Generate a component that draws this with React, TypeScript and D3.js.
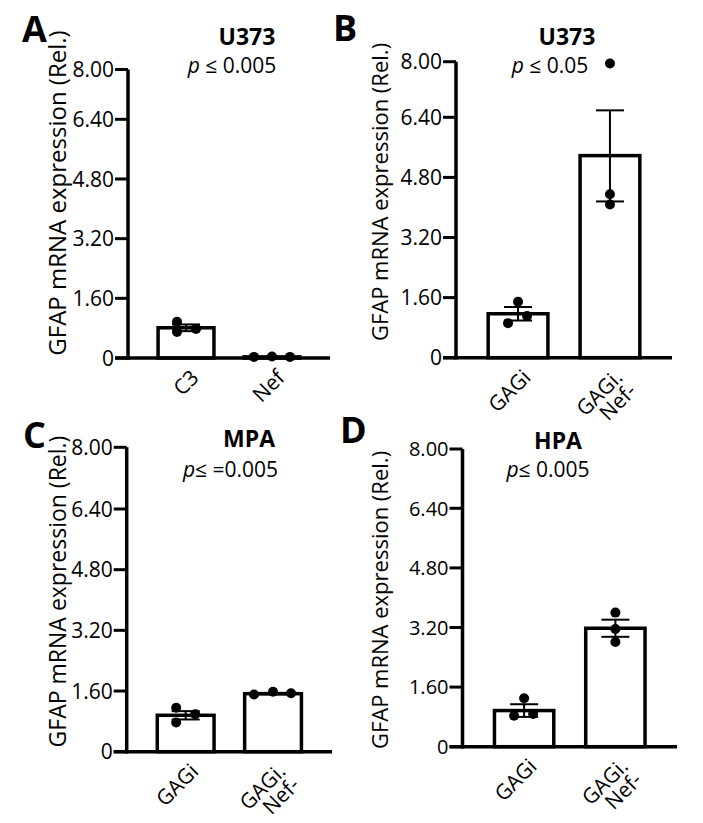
import React from "react";
import * as d3 from "d3";

// ---------- data ----------
const panelLetters = ["A", "B", "C", "D"];
const panelTitles = ["U373", "U373", "MPA", "HPA"];
const pTexts = [" ≤ 0.005", " ≤ 0.05", "≤ =0.005", "≤ 0.005"];
const yAxisTitle = "GFAP mRNA expression (Rel.)";

const yTickValues = [0, 1.6, 3.2, 4.8, 6.4, 8];
const yTickLabels = ["0", "1.60", "3.20", "4.80", "6.40", "8.00"];

const categoriesA = ["C3", "Nef"];
const categoriesB = ["GAGi", "GAGi.|Nef-"];
const categoriesC = ["GAGi", "GAGi.|Nef-"];
const categoriesD = ["GAGi", "GAGi.|Nef-"];

const meansA = [0.81, 0.03];
const semA = [0.09, 0.0];
const pointsA = [
  [0.97, 0.7, 0.78],
  [0.03, 0.04, 0.03],
];

const meansB = [1.17, 5.38];
const semB = [0.18, 1.22];
const pointsB = [
  [1.49, 1.11, 0.92],
  [7.95, 4.35, 4.08],
];

const meansC = [0.96, 1.53];
const semC = [0.11, 0.02];
const pointsC = [
  [1.16, 0.77, 0.99],
  [1.51, 1.58, 1.54],
];

const meansD = [0.97, 3.18];
const semD = [0.17, 0.23];
const pointsD = [
  [1.3, 0.83, 0.88],
  [3.6, 3.16, 2.81],
];

// ---------- layout (positions / styles) ----------
const FONT = "'Open Sans', sans-serif";

const layouts = [
  {
    x0: 128, x1: 330, yR: [358, 119.3, 69.5],
    letter: [22, 42], title: [247, 45], p: [232, 72.5],
    ylab: [66, 193, 24], tickFs: 21, jitter: [[-9, -9, 10], [-18, 0, 18]],
  },
  {
    x0: 456, x1: 672, yR: [357.7, 117.3, 61.7],
    letter: [333, 41], title: [567, 45], p: [550, 72.5],
    ylab: [388, 192, 22], tickFs: 21, jitter: [[0, 9, -10], [0, 0, 0]],
  },
  {
    x0: 126.7, x1: 332, yR: [751.7, 509, 447.3],
    letter: [23, 448], title: [249, 446.5], p: [230.5, 476.5],
    ylab: [66, 591.5, 23], tickFs: 21, jitter: [[-9.5, -9.5, 9.5], [-19, 0, 18]],
  },
  {
    x0: 462.5, x1: 677, yR: [746.7, 508.3, 449],
    letter: [340, 443], title: [558, 448.5], p: [548, 477],
    ylab: [388, 600, 22], tickFs: 20, jitter: [[0, -10, 9], [0, 0, 0]],
  },
];

const panelData = [
  { cats: categoriesA, means: meansA, sem: semA, pts: pointsA },
  { cats: categoriesB, means: meansB, sem: semB, pts: pointsB },
  { cats: categoriesC, means: meansC, sem: semC, pts: pointsC },
  { cats: categoriesD, means: meansD, sem: semD, pts: pointsD },
];

function Panel({ idx }: { idx: number }) {
  const L = layouts[idx];
  const D = panelData[idx];
  const y = d3.scaleLinear().domain([0, 6.4, 8]).range(L.yR);
  const x = d3
    .scaleBand<string>()
    .domain(D.cats)
    .range([L.x0, L.x1])
    .paddingInner(0.35)
    .paddingOuter(0.35);
  const bw = x.bandwidth();
  const tickLen = 13;
  const axisW = 3.5;
  const y0 = y(0);
  const capHalf = 14;

  return (
    <g>
      <text x={L.letter[0]} y={L.letter[1]} fontFamily={FONT} fontWeight={700} fontSize={36}>
        {panelLetters[idx]}
      </text>
      <text x={L.title[0]} y={L.title[1]} textAnchor="middle" fontFamily={FONT} fontWeight={700} fontSize={23}>
        {panelTitles[idx]}
      </text>
      <text x={L.p[0]} y={L.p[1]} textAnchor="middle" fontFamily={FONT} fontSize={21}>
        <tspan fontStyle="italic">p</tspan>
        {pTexts[idx]}
      </text>
      <text
        transform={`translate(${L.ylab[0]},${L.ylab[1]}) rotate(-90)`}
        textAnchor="middle"
        fontFamily={FONT}
        fontSize={L.ylab[2]}
      >
        {yAxisTitle}
      </text>

      {D.cats.map((c, i) => (
        <rect
          key={"bar" + i}
          x={x(c) as number}
          y={y(D.means[i])}
          width={bw}
          height={y0 - y(D.means[i])}
          fill="#fff"
          stroke="#000"
          strokeWidth={3.5}
        />
      ))}

      <line x1={L.x0} x2={L.x0} y1={y(8)} y2={y0 + axisW / 2} stroke="#000" strokeWidth={axisW} />
      <line x1={L.x0 - tickLen} x2={L.x1} y1={y0} y2={y0} stroke="#000" strokeWidth={axisW} />
      {yTickValues.map((v, i) => (
        <g key={"t" + i}>
          <line x1={L.x0 - tickLen} x2={L.x0} y1={y(v)} y2={y(v)} stroke="#000" strokeWidth={3} />
          <text
            x={L.x0 - tickLen - 1}
            y={y(v)}
            dy="0.36em"
            textAnchor="end"
            fontFamily={FONT}
            fontSize={L.tickFs}
          >
            {yTickLabels[i]}
          </text>
        </g>
      ))}

      {D.cats.map((c, i) => {
        const cx = (x(c) as number) + bw / 2;
        const hi = y(D.means[i] + D.sem[i]);
        const lo = y(Math.max(0, D.means[i] - D.sem[i]));
        if (D.sem[i] <= 0) return null;
        return (
          <g key={"e" + i} stroke="#000" strokeWidth={2}>
            <line x1={cx} x2={cx} y1={hi} y2={lo} />
            <line x1={cx - capHalf} x2={cx + capHalf} y1={hi} y2={hi} />
            <line x1={cx - capHalf} x2={cx + capHalf} y1={lo} y2={lo} />
          </g>
        );
      })}

      {D.cats.map((c, i) =>
        D.pts[i].map((v, j) => (
          <circle
            key={"p" + i + "-" + j}
            cx={(x(c) as number) + bw / 2 + L.jitter[i][j]}
            cy={y(v)}
            r={5}
            fill="#000"
          />
        ))
      )}

      {D.cats.map((c, i) => {
        const cx = (x(c) as number) + bw / 2;
        const lines = c.split("|");
        return (
          <text
            key={"c" + i}
            transform={`translate(${cx + 14},${y0 + 21}) rotate(-45)`}
            textAnchor="end"
            fontFamily={FONT}
            fontSize={21}
          >
            {lines.map((ln, k) => (
              <tspan key={k} x={0} dy={k === 0 ? 0 : "0.92em"}>
                {ln}
              </tspan>
            ))}
          </text>
        );
      })}
    </g>
  );
}

export default function App() {
  return (
    <svg
      width={703}
      height={823}
      style={{ position: "absolute", left: 0, top: 0, background: "#fff" }}
    >
      <rect width={703} height={823} fill="#fff" />
      {[0, 1, 2, 3].map((i) => (
        <Panel key={i} idx={i} />
      ))}
    </svg>
  );
}
